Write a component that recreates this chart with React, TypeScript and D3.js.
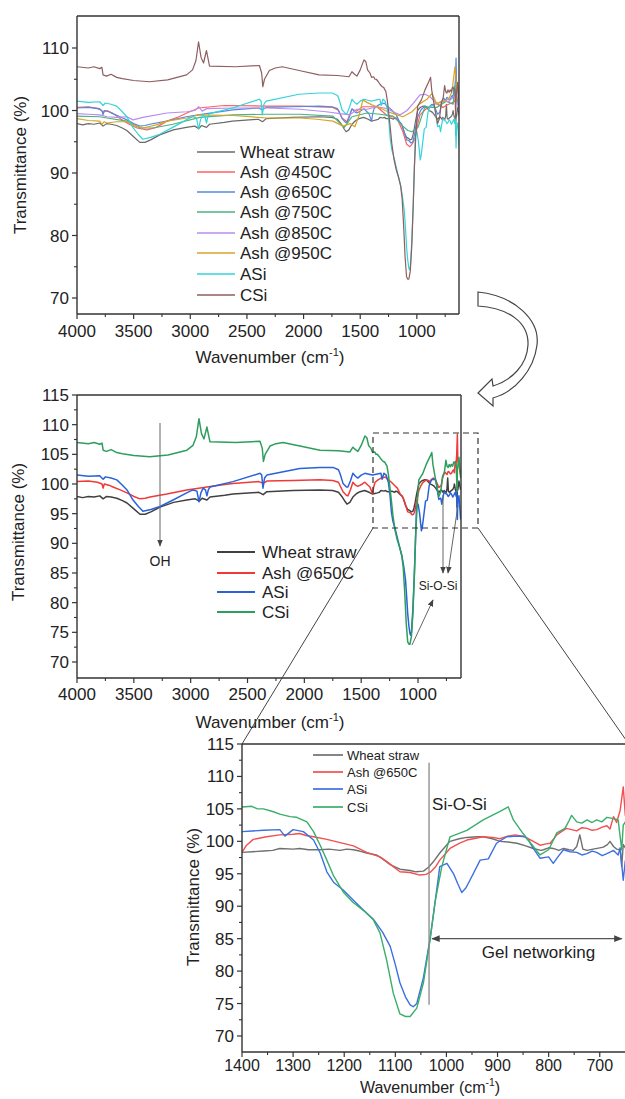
import React from 'react';
import * as d3 from 'd3';

type P = [number, number];

// ---------- DATA (wavenumber cm-1, transmittance %) ----------
const wheatStraw: P[] = [
  [4000, 97.9], [3950, 97.7], [3900, 97.9], [3850, 97.8], [3800, 98.0], [3770, 97.5], [3740, 97.9], [3700, 97.8], [3650, 97.6],
  [3600, 97.2], [3560, 96.8], [3500, 95.8], [3446, 94.9], [3400, 94.9], [3350, 95.3], [3270, 96.1], [3150, 96.9],
  [3035, 97.3], [2960, 97.5], [2925, 97.1], [2900, 97.6], [2857, 97.3], [2830, 97.8], [2700, 98.1], [2628, 98.3],
  [2400, 98.6], [2362, 98.2], [2330, 98.7], [2100, 98.9], [1863, 99.0], [1750, 98.9], [1700, 98.6], [1670, 97.9],
  [1640, 97.0], [1625, 96.6], [1600, 96.9], [1573, 97.8], [1540, 98.4], [1510, 98.7], [1470, 98.9], [1430, 98.6],
  [1400, 98.3], [1380, 98.4], [1358, 98.5], [1340, 98.6], [1326, 98.9], [1300, 98.8], [1287, 98.9], [1270, 98.7],
  [1247, 98.7], [1230, 98.8], [1208, 98.6], [1195, 98.8], [1182, 98.7], [1170, 98.5], [1156, 98.2], [1137, 97.9],
  [1125, 97.3], [1110, 96.4], [1091, 95.7], [1071, 95.5], [1060, 95.3], [1045, 95.4], [1035, 96.0], [1026, 96.8],
  [1013, 98.2], [1000, 99.4], [993, 100.0], [975, 100.4], [960, 100.6], [940, 100.7], [928, 100.7], [910, 100.4],
  [895, 100.0], [880, 99.9], [862, 99.7], [845, 99.3], [830, 98.9], [815, 98.6], [810, 98.7], [800, 99.0],
  [791, 98.9], [780, 98.6], [771, 98.9], [760, 98.7], [752, 98.6], [745, 99.2], [739, 101.0], [733, 98.8],
  [725, 98.6], [713, 98.8], [700, 99.0], [693, 99.1], [685, 99.5], [680, 100.0], [673, 99.2], [667, 98.8],
  [660, 98.7], [657, 96.1], [654, 99.5], [650, 99.0], [640, 100.5], [625, 99.0],
];

const ash650: P[] = [
  [4000, 100.4], [3900, 100.5], [3820, 100.3], [3780, 100.0], [3770, 99.3], [3760, 100.0], [3720, 99.8], [3683, 99.5],
  [3620, 99.0], [3560, 98.5], [3500, 97.9], [3446, 97.5], [3400, 97.6], [3358, 97.8], [3210, 98.3], [3035, 99.0],
  [2930, 99.3], [2857, 99.5], [2700, 99.9], [2628, 100.1], [2400, 100.4], [2362, 100.1], [2330, 100.5], [2100, 100.6],
  [1863, 100.7], [1750, 100.6], [1700, 100.3], [1660, 98.7], [1630, 98.1], [1617, 98.0], [1595, 99.0], [1573, 100.3],
  [1550, 99.8], [1530, 99.6], [1490, 100.0], [1467, 100.3], [1440, 99.8], [1423, 99.5], [1400, 98.3], [1391, 99.4],
  [1378, 100.3], [1352, 100.7], [1326, 101.0], [1300, 101.1], [1287, 101.2], [1275, 100.9], [1260, 100.7],
  [1234, 100.3], [1208, 99.8], [1182, 99.3], [1156, 98.3], [1130, 97.6], [1115, 96.8], [1104, 96.1], [1091, 95.3],
  [1071, 95.2], [1052, 94.8], [1040, 94.9], [1032, 95.2], [1022, 96.0], [1013, 97.1], [993, 98.9], [975, 99.7],
  [960, 100.2], [928, 100.7], [910, 100.6], [895, 100.4], [880, 100.8], [866, 101.0], [850, 100.8], [840, 100.4],
  [830, 100.0], [817, 99.4], [805, 99.6], [797, 99.7], [784, 101.0], [775, 101.5], [765, 102.0], [755, 101.8],
  [745, 101.6], [735, 102.1], [725, 102.0], [715, 101.7], [706, 101.8], [695, 102.2], [686, 102.4], [680, 101.9],
  [673, 103.8], [667, 102.9], [660, 104.8], [654, 108.4], [650, 104.0], [640, 103.0], [625, 101.5],
];

const aSi: P[] = [
  [4000, 101.5], [3900, 101.3], [3800, 101.4], [3770, 100.8], [3750, 101.2], [3700, 101.0], [3650, 100.7],
  [3600, 99.8], [3560, 99.0], [3507, 97.3], [3460, 96.2], [3420, 95.4], [3350, 95.7], [3270, 96.2], [3155, 97.3],
  [3035, 98.5], [2980, 99.0], [2945, 98.8], [2927, 97.0], [2910, 98.5], [2890, 99.3], [2870, 99.0], [2857, 98.0],
  [2845, 99.0], [2830, 99.5], [2628, 100.4], [2390, 101.8], [2375, 101.5], [2364, 99.3], [2350, 101.0],
  [2330, 101.5], [2040, 102.6], [1863, 102.8], [1748, 102.8], [1700, 102.4], [1687, 101.8], [1660, 100.1],
  [1630, 99.5], [1617, 99.5], [1595, 100.5], [1573, 101.8], [1550, 101.3], [1530, 101.0], [1500, 101.5],
  [1467, 101.8], [1423, 101.6], [1400, 101.5], [1380, 101.6], [1358, 101.7], [1326, 101.8], [1316, 100.8],
  [1300, 101.8], [1280, 101.5], [1260, 100.2], [1247, 98.2], [1234, 95.3], [1221, 93.7], [1202, 92.5],
  [1183, 91.0], [1165, 89.6], [1143, 88.0], [1125, 86.0], [1110, 83.8], [1100, 81.0], [1091, 78.2], [1080, 76.0],
  [1071, 74.8], [1065, 74.5], [1058, 75.0], [1045, 79.0], [1032, 85.0], [1022, 90.7], [1013, 96.1], [999, 96.6],
  [986, 95.0], [978, 93.5], [970, 92.1], [962, 92.8], [954, 94.0], [934, 97.1], [918, 97.3], [902, 99.7],
  [882, 100.7], [862, 100.8], [846, 100.7], [838, 100.0], [830, 98.9], [817, 97.4], [800, 97.6], [791, 96.6],
  [780, 97.8], [771, 98.7], [758, 98.4], [745, 98.3], [735, 97.9], [725, 98.1], [715, 98.5], [706, 98.3],
  [695, 97.8], [686, 98.1], [673, 98.6], [664, 97.9], [660, 99.0], [654, 94.0], [650, 97.0], [640, 98.0], [625, 94.0],
];

const cSi: P[] = [
  [4000, 107.0], [3900, 106.8], [3850, 107.0], [3800, 106.7], [3780, 106.9], [3770, 105.7], [3740, 105.5],
  [3700, 105.8], [3650, 105.3], [3600, 105.1], [3500, 104.8], [3360, 104.6], [3200, 104.9], [3033, 105.7],
  [2980, 106.5], [2950, 108.0], [2927, 111.0], [2905, 108.5], [2883, 107.6], [2857, 109.6], [2840, 108.0],
  [2830, 107.1], [2600, 107.0], [2390, 107.2], [2370, 106.0], [2360, 103.8], [2345, 105.0], [2302, 106.4],
  [2250, 106.8], [2188, 107.0], [2039, 106.4], [1863, 105.7], [1700, 105.6], [1599, 105.4], [1573, 106.2],
  [1550, 105.8], [1529, 105.5], [1500, 106.5], [1467, 108.1], [1450, 107.8], [1435, 106.5], [1414, 106.0],
  [1400, 105.3], [1381, 105.4], [1370, 105.0], [1358, 105.0], [1340, 104.6], [1326, 104.2], [1306, 103.8],
  [1293, 103.7], [1273, 103.0], [1260, 101.5], [1247, 99.4], [1234, 97.1], [1221, 94.7], [1202, 92.2],
  [1183, 90.6], [1160, 89.2], [1143, 87.9], [1130, 85.9], [1117, 81.7], [1104, 76.6], [1091, 73.4], [1080, 73.0],
  [1071, 73.0], [1058, 74.3], [1045, 78.2], [1032, 84.8], [1022, 90.8], [1009, 96.1], [993, 100.7], [960, 101.7],
  [928, 103.3], [895, 104.6], [879, 105.3], [869, 103.3], [850, 101.2], [830, 99.2], [817, 97.9], [800, 98.7],
  [784, 101.3], [768, 102.0], [760, 103.2], [755, 104.0], [745, 103.0], [735, 102.8], [725, 103.3], [715, 102.9],
  [706, 103.3], [696, 103.0], [686, 103.7], [673, 103.5], [664, 103.3], [657, 98.7], [654, 102.5], [650, 103.0],
  [640, 104.5], [625, 101.0],
];

const ash450: P[] = [
  [4000, 100.5], [3900, 100.6], [3800, 100.3], [3770, 99.7], [3735, 100.0], [3680, 99.5], [3620, 98.7],
  [3540, 97.8], [3470, 97.2], [3383, 96.9], [3300, 97.3], [3206, 98.3], [3100, 99.0], [3030, 99.6], [2925, 100.4],
  [2700, 100.8], [2323, 100.7], [2032, 100.7], [1741, 100.5], [1690, 100.0], [1660, 98.8], [1617, 98.2],
  [1590, 99.5], [1573, 100.2], [1530, 99.9], [1480, 100.6], [1441, 100.6], [1352, 100.6], [1264, 99.2],
  [1176, 98.8], [1123, 96.6], [1090, 94.6], [1061, 94.2], [1040, 94.7], [1017, 95.5], [990, 98.0], [972, 99.3],
  [911, 100.4], [850, 101.0], [825, 101.1], [770, 100.5], [720, 101.0], [680, 101.3], [664, 101.5], [650, 103.0],
  [640, 101.5], [625, 100.0],
];

const ash750: P[] = [
  [4000, 99.1], [3800, 99.0], [3735, 98.8], [3560, 98.3], [3444, 97.2], [3330, 97.2], [3153, 97.8], [2915, 98.9],
  [2623, 99.3], [2323, 99.4], [2032, 99.4], [1741, 99.1], [1660, 97.6], [1640, 97.3], [1573, 99.0], [1441, 99.6],
  [1326, 99.4], [1210, 99.1], [1123, 97.5], [1080, 96.8], [1043, 96.6], [990, 97.3], [930, 100.5], [825, 100.5],
  [740, 101.5], [680, 101.0], [664, 104.0], [650, 102.0], [625, 100.5],
];

const ash850: P[] = [
  [4000, 99.5], [3900, 99.4], [3800, 99.3], [3735, 99.0], [3650, 98.9], [3560, 99.0], [3505, 98.5], [3418, 98.9],
  [3206, 99.6], [3030, 99.8], [2960, 100.0], [2925, 100.6], [2895, 99.9], [2855, 100.3], [2623, 100.4],
  [2323, 100.4], [2032, 100.2], [1800, 99.8], [1679, 99.5], [1590, 99.3], [1530, 100.2], [1441, 100.2],
  [1352, 100.6], [1264, 100.3], [1210, 99.8], [1149, 99.3], [1087, 100.0], [1034, 101.1], [972, 102.5],
  [928, 102.6], [884, 102.2], [825, 101.1], [770, 101.5], [720, 101.4], [664, 102.5], [650, 101.5], [625, 100.0],
];

const ash950: P[] = [
  [4000, 98.7], [3900, 98.4], [3800, 98.3], [3780, 97.8], [3760, 98.2], [3735, 98.0], [3650, 98.2], [3560, 98.2],
  [3505, 97.7], [3418, 97.2], [3300, 97.7], [3206, 98.3], [3030, 98.8], [2925, 99.3], [2623, 99.2], [2323, 98.8],
  [2032, 98.8], [1882, 98.6], [1741, 98.3], [1652, 97.5], [1590, 97.9], [1547, 97.4], [1510, 99.2], [1476, 101.7],
  [1441, 101.3], [1396, 100.9], [1326, 100.4], [1255, 99.8], [1176, 99.3], [1123, 99.0], [1043, 99.8],
  [972, 101.1], [911, 101.8], [867, 102.7], [825, 101.1], [770, 101.5], [720, 101.8], [690, 103.0], [664, 107.0],
  [650, 104.0], [625, 102.0],
];

const topNames = ['Wheat straw', 'Ash @450C', 'Ash @650C', 'Ash @750C', 'Ash @850C', 'Ash @950C', 'ASi', 'CSi'];
const midNames = ['Wheat straw', 'Ash @650C', 'ASi', 'CSi'];

const xMajorWide = [4000, 3500, 3000, 2500, 2000, 1500, 1000];
const xMinorWide = [3750, 3250, 2750, 2250, 1750, 1250, 750];
const topYMajor = [70, 80, 90, 100, 110];
const topYMinor = [75, 85, 95, 105];
const midYMajor = [70, 75, 80, 85, 90, 95, 100, 105, 110, 115];
const midYMinor = [72.5, 77.5, 82.5, 87.5, 92.5, 97.5, 102.5, 107.5, 112.5];
const botXMajor = [1400, 1300, 1200, 1100, 1000, 900, 800, 700];
const botXMinor = [1350, 1250, 1150, 1050, 950, 850, 750];

// ---------- STYLE ----------
const FONT = 'Liberation Sans, Arial, Helvetica, sans-serif';
const AXC = '#333';

type S = { name: string; data: P[]; color: string };

const topSeries: S[] = [
  { name: topNames[0], data: wheatStraw, color: '#6a6a6a' },
  { name: topNames[1], data: ash450, color: '#ff6262' },
  { name: topNames[2], data: ash650, color: '#5588e0' },
  { name: topNames[3], data: ash750, color: '#4cb283' },
  { name: topNames[4], data: ash850, color: '#b88cf0' },
  { name: topNames[5], data: ash950, color: '#d6a628' },
  { name: topNames[6], data: aSi, color: '#33d4d8' },
  { name: topNames[7], data: cSi, color: '#8e5e60' },
];
const midSeries: S[] = [
  { name: midNames[0], data: wheatStraw, color: '#404040' },
  { name: midNames[1], data: ash650, color: '#f03a3a' },
  { name: midNames[2], data: aSi, color: '#2a62d8' },
  { name: midNames[3], data: cSi, color: '#2e9e5c' },
];
const botSeries: S[] = [
  { name: midNames[0], data: wheatStraw, color: '#707070' },
  { name: midNames[1], data: ash650, color: '#f25050' },
  { name: midNames[2], data: aSi, color: '#3b70e0' },
  { name: midNames[3], data: cSi, color: '#3aae6a' },
];

type PanelProps = {
  id: string;
  left: number; right: number; top: number; bottom: number;
  xDom: [number, number]; yDom: [number, number];
  series: S[]; xMajor: number[]; xMinor: number[]; yMajor: number[]; yMinor: number[];
  strokeW: number; rightBorder: boolean;
  legend: { x1: number; x2: number; tx: number; ys: number[]; fs: number };
  ylab: { x: number; y: number };
  xlab: { x: number; y: number; fs: number };
  tickLabY: number; xTickFs: number;
  children?: (x: d3.ScaleLinear<number, number>, y: d3.ScaleLinear<number, number>) => React.ReactNode;
};

function Panel(p: PanelProps) {
  const x = d3.scaleLinear().domain(p.xDom).range([p.left, p.right]);
  const y = d3.scaleLinear().domain(p.yDom).range([p.bottom, p.top]);
  const line = d3.line<P>().x(d => x(d[0])).y(d => y(d[1]));
  return (
    <g>
      <defs>
        <clipPath id={p.id}>
          <rect x={p.left} y={p.top} width={p.right - p.left} height={p.bottom - p.top} />
        </clipPath>
      </defs>
      <g clipPath={`url(#${p.id})`}>
        {p.series.map(s => (
          <path key={s.name} d={line(s.data) || ''} fill="none" stroke={s.color} strokeWidth={p.strokeW} strokeLinejoin="round" />
        ))}
      </g>
      {/* frame */}
      <line x1={p.left} x2={p.left} y1={p.top} y2={p.bottom} stroke={AXC} strokeWidth={1.4} />
      <line x1={p.left} x2={p.right} y1={p.bottom} y2={p.bottom} stroke={AXC} strokeWidth={1.4} />
      <line x1={p.left} x2={p.right} y1={p.top} y2={p.top} stroke={AXC} strokeWidth={1.4} />
      {p.rightBorder && <line x1={p.right} x2={p.right} y1={p.top} y2={p.bottom} stroke={AXC} strokeWidth={1.4} />}
      {/* x ticks */}
      {p.xMajor.map(v => (
        <g key={'xm' + v}>
          <line x1={x(v)} x2={x(v)} y1={p.bottom} y2={p.bottom + 5} stroke={AXC} strokeWidth={1.2} />
          <text x={x(v)} y={p.tickLabY} textAnchor="middle" fontSize={p.xTickFs} fontFamily={FONT} fill="#222">{v}</text>
        </g>
      ))}
      {p.xMinor.map(v => (
        <line key={'xn' + v} x1={x(v)} x2={x(v)} y1={p.bottom} y2={p.bottom + 3} stroke={AXC} strokeWidth={1.1} />
      ))}
      {/* y ticks */}
      {p.yMajor.map(v => (
        <g key={'ym' + v}>
          <line x1={p.left - 5} x2={p.left} y1={y(v)} y2={y(v)} stroke={AXC} strokeWidth={1.2} />
          <text x={p.left - 8} y={y(v) + 6} textAnchor="end" fontSize={17} fontFamily={FONT} fill="#222">{v}</text>
        </g>
      ))}
      {p.yMinor.map(v => (
        <line key={'yn' + v} x1={p.left - 3} x2={p.left} y1={y(v)} y2={y(v)} stroke={AXC} strokeWidth={1.1} />
      ))}
      {/* axis labels */}
      <text transform={`translate(${p.ylab.x},${p.ylab.y}) rotate(-90)`} textAnchor="middle" fontSize={17} fontFamily={FONT} fill="#222" dy="0.35em">
        Transmittance (%)
      </text>
      <text x={p.xlab.x} y={p.xlab.y} textAnchor="middle" fontSize={p.xlab.fs} fontFamily={FONT} fill="#222">
        Wavenumber (cm<tspan dy={-7} fontSize={p.xlab.fs * 0.65}>-1</tspan><tspan dy={7}>)</tspan>
      </text>
      {/* legend */}
      {p.series.map((s, i) => (
        <g key={'lg' + s.name}>
          <line x1={p.legend.x1} x2={p.legend.x2} y1={p.legend.ys[i]} y2={p.legend.ys[i]} stroke={s.color} strokeWidth={p.strokeW + 0.3} />
          <text x={p.legend.tx} y={p.legend.ys[i]} dy="0.35em" fontSize={p.legend.fs} fontFamily={FONT} fill="#222">{s.name}</text>
        </g>
      ))}
      {p.children && p.children(x, y)}
    </g>
  );
}

export default function App() {
  return (
    <svg width={625} height={1099} style={{ position: 'absolute', left: 0, top: 0, background: '#fff' }}>
      <defs>
        <marker id="ah" viewBox="0 0 10 10" refX="9" refY="5" markerWidth="7" markerHeight="7" orient="auto-start-reverse">
          <path d="M0,1 L10,5 L0,9 Z" fill="#444" />
        </marker>
      </defs>
      <rect x={0} y={0} width={625} height={1099} fill="#fff" />

      {/* TOP PANEL */}
      <Panel id="c1" left={77} right={459} top={16} bottom={314}
        xDom={[4000, 628]} yDom={[67.44, 115.12]}
        series={topSeries} xMajor={xMajorWide} xMinor={xMinorWide} yMajor={topYMajor} yMinor={topYMinor}
        strokeW={1.2} rightBorder={true}
        legend={{ x1: 197, x2: 235, tx: 240, ys: [152, 172, 192, 212, 233, 253, 274, 295], fs: 17 }}
        ylab={{ x: 20, y: 165 }} xlab={{ x: 270, y: 363, fs: 17 }} tickLabY={337} xTickFs={17}
      />

      {/* curved arrow */}
      <path d="M478,292 C515,296 540,320 537,345 C534,370 515,392 493,398 L493,406 L478,393 L492,379 L493,386 C512,380 527,365 528,345 C529,322 508,308 478,306 Z"
        fill="#fff" stroke="#444" strokeWidth={1.2} />

      {/* MIDDLE PANEL */}
      <Panel id="c2" left={77} right={461} top={395} bottom={678}
        xDom={[4000, 622]} yDom={[67.3, 115]}
        series={midSeries} xMajor={xMajorWide} xMinor={xMinorWide} yMajor={midYMajor} yMinor={midYMinor}
        strokeW={1.5} rightBorder={true}
        legend={{ x1: 217, x2: 255, tx: 262, ys: [552, 573, 592, 612], fs: 17 }}
        ylab={{ x: 18, y: 532 }} xlab={{ x: 270, y: 728, fs: 17 }} tickLabY={700} xTickFs={17}
      >
        {() => (
          <g>
            <line x1={160} x2={160} y1={423} y2={546} stroke="#666" strokeWidth={1} markerEnd="url(#ah)" />
            <text x={160} y={566} textAnchor="middle" fontSize={14} fontFamily={FONT} fill="#222">OH</text>
            <line x1={443} x2={443} y1={495} y2={573} stroke="#666" strokeWidth={1} markerEnd="url(#ah)" />
            <line x1={458} x2={448} y1={505} y2={573} stroke="#666" strokeWidth={1} markerEnd="url(#ah)" />
            <line x1={412} x2={433} y1={645} y2={600} stroke="#666" strokeWidth={1} markerEnd="url(#ah)" />
            <text x={438} y={590} textAnchor="middle" fontSize={12} fontFamily={FONT} fill="#222">Si-O-Si</text>
          </g>
        )}
      </Panel>

      {/* dashed zoom box and connectors */}
      <rect x={373} y={433} width={105} height={95} fill="none" stroke="#333" strokeWidth={1.2} strokeDasharray="6,4" />
      <line x1={373} y1={528} x2={242} y2={744} stroke="#444" strokeWidth={1} />
      <line x1={478} y1={528} x2={633} y2={750} stroke="#444" strokeWidth={1} />

      {/* BOTTOM PANEL */}
      <Panel id="c3" left={242} right={625.3} top={744} bottom={1052}
        xDom={[1400, 650]} yDom={[67.53, 115]}
        series={botSeries} xMajor={botXMajor} xMinor={botXMinor} yMajor={midYMajor} yMinor={midYMinor}
        strokeW={1.4} rightBorder={false}
        legend={{ x1: 313, x2: 343, tx: 347, ys: [755, 772, 789, 807], fs: 13 }}
        ylab={{ x: 193, y: 897 }} xlab={{ x: 430, y: 1093, fs: 16 }} tickLabY={1071} xTickFs={16}
      >
        {(x, y) => (
          <g>
            <line x1={x(1034)} x2={x(1034)} y1={y(112.1)} y2={y(74.8)} stroke="#888" strokeWidth={1.3} />
            <text x={x(1034) + 3} y={y(104.8)} fontSize={17} fontFamily={FONT} fill="#222">Si-O-Si</text>
            <line x1={x(1028)} x2={x(657)} y1={y(85)} y2={y(85)} stroke="#555" strokeWidth={1.2}
              markerStart="url(#ah)" markerEnd="url(#ah)" />
            <text x={x(820)} y={y(82.9)} dy="0.35em" textAnchor="middle" fontSize={17} fontFamily={FONT} fill="#222">Gel networking</text>
          </g>
        )}
      </Panel>
    </svg>
  );
}
